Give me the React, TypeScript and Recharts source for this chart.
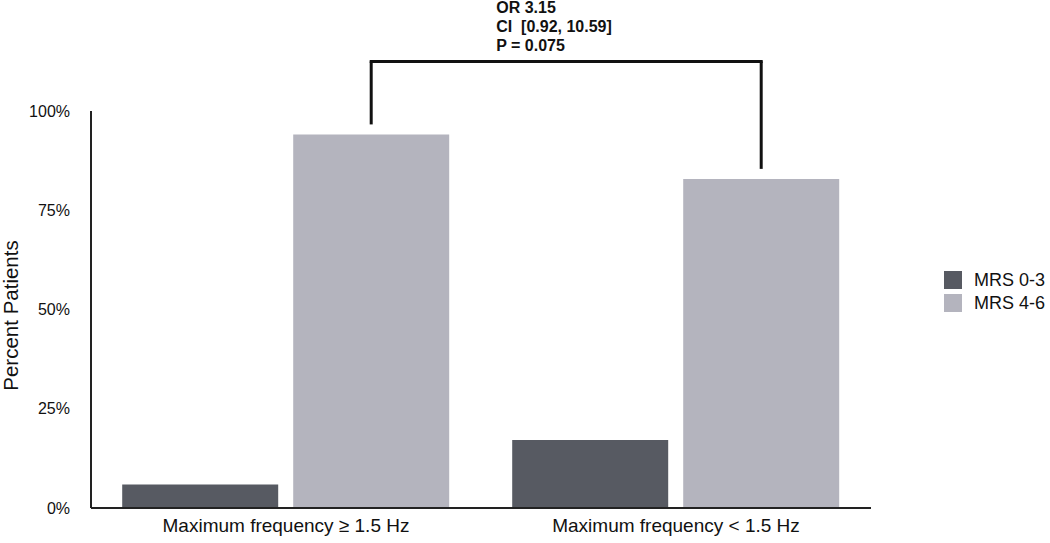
import React from 'react';
import { BarChart, Bar, XAxis, YAxis, LabelList } from 'recharts';

const categories = ['Maximum frequency \u2265 1.5 Hz', 'Maximum frequency < 1.5 Hz'];
const mrs03 = [5.9, 17.1];
const mrs46 = [94.1, 82.9];
const yTicks = [0, 25, 50, 75, 100];
const series = [
  { key: 'mrs03', name: 'MRS 0-3', color: '#575a62' },
  { key: 'mrs46', name: 'MRS 4-6', color: '#b4b4be' }
];
const annotation = ['OR 3.15', 'CI  [0.92, 10.59]', 'P = 0.075'];
const bracketLevel = 112.5; // percent, above the 100% top

const CHART_W = 1050;
const CHART_H = 543;
const MARGIN = { top: 111, right: 179, bottom: 0, left: 0 };
const YAXIS_W = 91;
const STEP = (CHART_W - MARGIN.left - MARGIN.right - YAXIS_W) / categories.length;
const FONT = '"Liberation Sans", Arial, Helvetica, sans-serif';

const data = categories.map((c, i) => ({ name: c, mrs03: mrs03[i], mrs46: mrs46[i] }));

// draws the comparison bracket over the MRS 4-6 bars
const Bracket = (props: any) => {
  const { x, y, width, height, value, index } = props;
  const cx = x + width / 2;
  const base = y + height;
  const by = base - (bracketLevel * height) / value;
  const parts: React.ReactNode[] = [
    <line key="v" x1={cx} x2={cx} y1={y - 10} y2={by} stroke="#111" strokeWidth={3} />
  ];
  if (index === categories.length - 1) {
    const left = cx - STEP;
    parts.push(
      <line key="h" x1={left - 1.5} x2={cx + 1.5} y1={by} y2={by} stroke="#111" strokeWidth={3} />
    );
    const mid = (left + cx) / 2;
    annotation.forEach((line, i) => {
      parts.push(
        <text
          key={'t' + i}
          x={mid - 70}
          y={by - 48.5 + i * 19}
          fontSize={16}
          fontWeight="bold"
          fill="#111"
          style={{ whiteSpace: 'pre', fontFamily: FONT }}
        >
          {line}
        </text>
      );
    });
  }
  return <g>{parts}</g>;
};

const YLabel = (props: any) => {
  const { viewBox } = props;
  const cx = viewBox.x + 18;
  const cy = viewBox.y + viewBox.height / 2 + 6;
  return (
    <text
      x={cx}
      y={cy}
      transform={`rotate(-90 ${cx} ${cy})`}
      textAnchor="middle"
      fontSize={20.5}
      fill="#111"
      style={{ fontFamily: FONT }}
    >
      Percent Patients
    </text>
  );
};

export default function App() {
  return (
    <div style={{ position: 'absolute', left: 0, top: 0, width: CHART_W, height: CHART_H, background: '#fff', fontFamily: FONT }}>
      <BarChart
        width={CHART_W}
        height={CHART_H}
        data={data}
        margin={MARGIN}
        barCategoryGap="8%"
        barGap={15}
      >
        <XAxis
          dataKey="name"
          height={35}
          tickLine={false}
          tickSize={0}
          tickMargin={11}
          axisLine={{ stroke: '#222', strokeWidth: 2 }}
          tick={{ fill: '#111', fontSize: 19, fontFamily: FONT }}
        />
        <YAxis
          width={YAXIS_W}
          domain={[0, 100]}
          ticks={yTicks}
          interval={0}
          tickFormatter={(v: number) => `${v}%`}
          tickLine={false}
          tickSize={0}
          tickMargin={21}
          axisLine={{ stroke: '#222', strokeWidth: 2 }}
          tick={{ fill: '#111', fontSize: 16, fontFamily: FONT }}
          label={<YLabel />}
        />
        {series.map((s) => (
          <Bar key={s.key} dataKey={s.key} name={s.name} fill={s.color} isAnimationActive={false}>
            {s.key === 'mrs46' && <LabelList dataKey="mrs46" content={<Bracket />} />}
          </Bar>
        ))}
      </BarChart>
      <div style={{ position: 'absolute', left: 944, top: 268 }}>
        {series.map((s) => (
          <div key={s.key} style={{ display: 'flex', alignItems: 'center', height: 23 }}>
            <div style={{ width: 18, height: 18, background: s.color, marginRight: 12 }} />
            <span style={{ fontSize: 18, color: '#111', lineHeight: '18px' }}>{s.name}</span>
          </div>
        ))}
      </div>
    </div>
  );
}
